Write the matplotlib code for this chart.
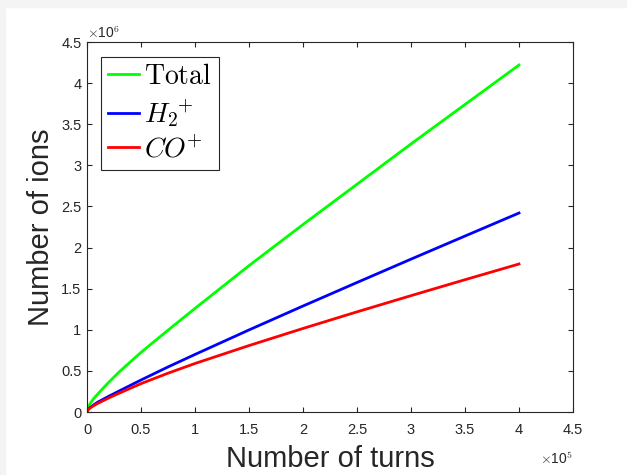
""" Importing the libraries
"""
import numpy as np
import matplotlib
matplotlib.use('Agg')
import matplotlib.pyplot as plt
from matplotlib.ticker import FuncFormatter
from matplotlib.patches import Rectangle


""" Ion counts vs number of turns
"""
turns = [0, 1000, 3000, 6000, 10000, 20000, 30000, 50000, 75000, 100000,
         150000, 200000, 250000, 300000, 350000, 400000]
total = [0, 0.055e6, 0.105e6, 0.16e6, 0.22e6, 0.36e6, 0.49e6, 0.725e6, 0.995e6, 1.26e6,
         1.78e6, 2.28e6, 2.77e6, 3.26e6, 3.74e6, 4.22e6]
h2 = [0, 0.03e6, 0.055e6, 0.085e6, 0.12e6, 0.19e6, 0.257e6, 0.389e6, 0.548e6, 0.70e6,
      0.998e6, 1.289e6, 1.575e6, 1.859e6, 2.14e6, 2.42e6]
co = [0, 0.028e6, 0.05e6, 0.075e6, 0.105e6, 0.17e6, 0.23e6, 0.345e6, 0.472e6, 0.59e6,
      0.808e6, 1.016e6, 1.218e6, 1.415e6, 1.609e6, 1.80e6]

labels = [r'$\mathrm{Total}$', r'$H_2{}^{\!\!+}$', r'$CO^{\!\!+}$']

plt.rcParams['font.family'] = ['Liberation Sans', 'DejaVu Sans']
plt.rcParams['mathtext.fontset'] = 'cm'

axcol = '#262626'

fig = plt.figure(figsize=(6.27, 4.75), dpi=100)
# light grey strips along the top and left edge
fig.patches.append(Rectangle((0, 1 - 7/475.), 1, 7/475., transform=fig.transFigure,
                             color='#f4f4f4', zorder=0))
fig.patches.append(Rectangle((0, 0), 5/627., 1, transform=fig.transFigure,
                             color='#f4f4f4', zorder=0))

ax = fig.add_axes([87/627., 63/475., 486/627., 370/475.])

ax.plot(turns, total, color='#00ff00', lw=2, label=labels[0])
ax.plot(turns, h2, color='#0000ff', lw=2, label=labels[1])
ax.plot(turns, co, color='#ff0000', lw=2, label=labels[2])

ax.set_xlim(0, 4.5e5)
ax.set_ylim(0, 4.5e6)
ax.set_xticks(np.arange(0, 4.51e5, 0.5e5))
ax.set_yticks(np.arange(0, 4.51e6, 0.5e6))
ax.xaxis.set_major_formatter(FuncFormatter(lambda v, p: '%g' % (v / 1e5)))
ax.yaxis.set_major_formatter(FuncFormatter(lambda v, p: '%g' % (v / 1e6)))

for s in ax.spines.values():
    s.set_color(axcol)
    s.set_linewidth(0.8)
ax.tick_params(direction='in', length=3.6, width=0.8, color=axcol, labelcolor=axcol,
               labelsize=10.5, top=True, right=True)
ax.tick_params(axis='x', pad=8)
ax.tick_params(axis='y', pad=4)

# exponent multipliers
ax.text(0.0, 1.011, r'$\times$10$^6$', transform=ax.transAxes, fontsize=10,
        color=axcol, ha='left', va='baseline')
ax.text(1.0, -0.105, r'$\times$10$^5$', transform=ax.transAxes, fontsize=10,
        color=axcol, ha='right', va='top')

ax.set_xlabel('Number of turns', fontsize=21, color=axcol)
ax.set_ylabel('Number of ions', fontsize=21, color=axcol)
ax.xaxis.set_label_coords(0.5, -0.09)
ax.yaxis.set_label_coords(-0.065, 0.5)

leg = ax.legend(loc='upper left', bbox_to_anchor=(0.029, 0.959), borderaxespad=0,
                fontsize=20, handlelength=1.1, handletextpad=0.2, borderpad=0.25,
                labelspacing=0.25, fancybox=False, framealpha=1)
leg.get_frame().set_edgecolor(axcol)
leg.get_frame().set_linewidth(0.8)

plt.savefig('out.png', dpi=100)
